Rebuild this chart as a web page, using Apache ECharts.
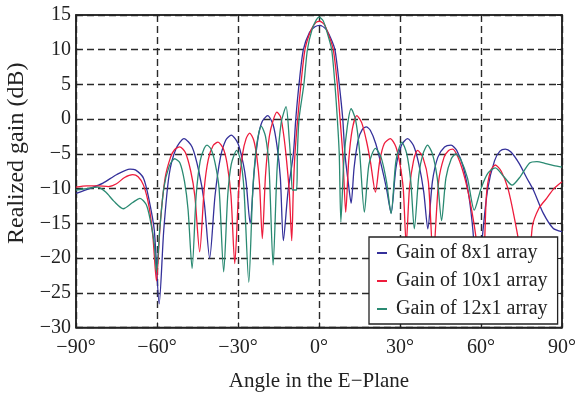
<!DOCTYPE html>
<html>
<head>
<meta charset="utf-8">
<script src="https://cdn.jsdelivr.net/npm/echarts@6/dist/echarts.min.js"></script>
<style>
html,body{margin:0;padding:0;background:#fff;}
#chart{width:579px;height:394px;}
</style>
</head>
<body>
<div id="chart"></div>
<script>
const seriesNames = ['Gain of 8x1 array', 'Gain of 10x1 array', 'Gain of 12x1 array'];
const xTicks = [-90, -60, -30, 0, 30, 60, 90];
const yTicks = [-30, -25, -20, -15, -10, -5, 0, 5, 10, 15];

const gain8 = [
  [-90,-10.7],[-85,-10.0],[-80,-9.2],[-75,-8.0],[-70,-7.2],[-68,-7.3],[-65,-8.5],[-63,-11.5],[-61,-16],
  [-59.2,-26.6],[-57.5,-16],[-55.5,-8],[-53,-4.3],[-50,-2.8],[-47,-4],[-44.5,-7.5],[-42.5,-12],[-40.5,-20],
  [-38.5,-11],[-36.5,-5.5],[-34.5,-3],[-32.5,-2.3],[-30,-3.5],[-28,-6.5],[-27,-9],[-25.5,-15],[-24,-7.5],
  [-22.5,-2.5],[-21,-0.3],[-19,0.5],[-17,-0.8],[-15.5,-4],[-14.3,-8.5],[-13.2,-17.5],[-11.5,-10.5],
  [-9.5,-5],[-8.6,0],[-7.4,5],[-5.8,10],[-3.5,12.5],[-1.5,13.3],[0.3,13.5],[2.5,13],[4.2,11.8],[5.9,10],
  [7.5,5],[8.8,0],[9.6,-5],[10.8,-9],[11.9,-12.1],[13,-7],[14.5,-3],[16,-1.5],[17.5,-1.1],[19,-1.6],
  [21,-3.5],[23,-6.5],[25,-10],[26.7,-13.5],[28.5,-7],[30.5,-3.8],[32.8,-2.8],[35,-3.8],[37,-6.5],
  [38.8,-10.5],[40.3,-15.8],[42,-9],[44,-5.5],[46.5,-4],[48.9,-3.75],[51,-4.5],[53.5,-7],[55.5,-11],
  [57,-16],[58.8,-25],[60.5,-17],[62.5,-10],[65,-6],[67,-4.6],[69,-4.3],[71,-4.7],[74,-6.3],[77,-8.5],
  [79.4,-10.2],[83,-13.5],[86.7,-15.7],[90,-16.2]
];

const gain10 = [
  [-90,-9.8],[-86,-9.6],[-82,-9.6],[-78,-9.7],[-75,-9.3],[-72,-8.4],[-69,-8.0],[-67,-8.3],[-65,-9.5],
  [-63,-12.5],[-61.5,-17],[-60.2,-23.3],[-58.8,-15],[-57,-8.5],[-55,-5.5],[-53.5,-4.4],[-51.6,-4.0],
  [-49.5,-4.8],[-47.5,-7.5],[-46,-11],[-44.2,-19.1],[-42.5,-10],[-41,-5.8],[-39.2,-3.8],[-37.4,-3.3],
  [-35.5,-4.2],[-34,-6.5],[-32.6,-11],[-31.2,-20.8],[-29.7,-10],[-28.3,-5],[-27,-2.8],[-25.7,-2.0],
  [-24.2,-3],[-23,-5.5],[-22,-9.5],[-21,-17.2],[-19.8,-8],[-18.4,-2.5],[-17,-0.2],[-15.6,1.0],[-14.2,0.3],
  [-13,-2.5],[-12,-6],[-11,-10.5],[-10.1,-17.5],[-9.5,-10],[-8.9,-5],[-7.9,0],[-6.7,5],[-5.2,10],
  [-3,12.8],[-1.2,13.9],[0.2,14.1],[2,13.6],[3.7,12],[5.3,10],[6.8,5],[7.8,0],[8.8,-5],[9.9,-13.4],
  [11,-6],[12.3,-1.5],[14,0.5],[15.8,-0.5],[17.5,-3],[19,-6],[20.9,-10.5],[22.5,-6],[24.2,-3.5],
  [26.4,-2.8],[28.5,-4],[30,-6.5],[31.2,-10],[32.3,-18],[33.5,-10],[35,-6],[36.5,-4.5],[38.5,-5.5],
  [40.5,-9],[42.3,-20],[44.3,-9],[46.3,-5.5],[48,-4.5],[49.5,-4.3],[51.5,-5.5],[54,-8.5],[56.5,-13],
  [58.5,-18],[60.5,-25],[62,-11],[63.5,-7.5],[65.3,-6.6],[67.5,-7.5],[70,-10],[72.5,-14.5],[75,-20],
  [77,-26],[79,-15.5],[81.5,-12.8],[84.3,-11.4],[87,-10],[90,-9]
];

const gain12 = [
  [-90,-10.2],[-86,-10.0],[-82,-9.8],[-79,-10.5],[-76,-11.8],[-72.5,-12.9],[-69,-12.0],[-66.3,-11.4],
  [-64,-12.3],[-62.5,-14.5],[-61,-18],[-60.2,-22],[-59,-16],[-57.5,-10],[-55.5,-6.8],[-53.5,-5.7],
  [-51.5,-6.3],[-49.8,-9],[-48.5,-13],[-47,-21.5],[-45.5,-11],[-44,-6],[-42.5,-4.2],[-41.5,-3.75],
  [-40,-4.3],[-38.5,-6.3],[-37,-10],[-35.3,-22],[-33.8,-11],[-32.5,-6.5],[-30.5,-4.5],[-29,-6],
  [-27.8,-10],[-26,-23.5],[-24.5,-10],[-23,-3.5],[-21.4,-1.0],[-19.8,-2.5],[-18.5,-7],[-17,-21],
  [-15.5,-7],[-14,-0.5],[-12.2,1.8],[-11,-3],[-10.3,-7],[-9.8,-10.2],[-8.3,-10.2],[-8.0,-5],[-7.4,0],
  [-5.6,5],[-4.3,10],[-2.5,13],[-1,14.3],[0,14.7],[1.5,14.2],[3,12.5],[4.7,10],[5.9,5],[6.8,0],
  [7.5,-5],[8.1,-14.8],[9.2,-6],[10.5,-1],[11.9,1.5],[13.5,0],[15,-4.5],[16.8,-13.4],[18.5,-6.5],
  [20.9,-4.2],[23,-5.5],[25,-9],[26.7,-13.6],[28.5,-6],[30.7,-3.3],[32.5,-5],[34,-9],[35.3,-15.8],
  [37,-8],[38.5,-5],[40.2,-3.75],[42,-5],[43.8,-8.5],[45.4,-14.6],[47,-8.5],[49,-5.7],[50.7,-5.0],
  [52.5,-5.8],[55,-8.5],[57.5,-13.1],[60,-10],[62.5,-7.8],[65.3,-7.0],[68.5,-8.3],[71.5,-9.5],
  [74.5,-8.3],[78,-6.3],[80.7,-6.1],[84,-6.4],[87,-6.7],[90,-6.9]
];

const colors = ['#34309a', '#ee1c3c', '#2a8a72'];
const FONT = '"Liberation Serif", "DejaVu Serif", serif';
const minus = v => (v < 0 ? '\u2212' + Math.abs(v) : String(v));

const chart = echarts.init(document.getElementById('chart'), null, {renderer: 'canvas'});
const gridLine = {show: true, lineStyle: {color: '#2a2a2a', width: 1.4, type: [7, 4]}};
const option = {
  backgroundColor: '#fff',
  animation: false,
  color: colors,
  textStyle: {fontFamily: FONT},
  grid: {left: 76, top: 15, right: 17, bottom: 66.5, outerBoundsMode: 'none', containLabel: false,
    show: true, borderColor: '#222', borderWidth: 1.5, backgroundColor: 'transparent'},
  legend: {
    data: seriesNames,
    orient: 'vertical',
    left: 369,
    top: 237,
    padding: [6, 10, 5, 8],
    itemGap: 8,
    itemWidth: 10,
    itemHeight: 2,
    icon: 'rect',
    backgroundColor: '#fff',
    borderColor: '#222',
    borderWidth: 1.3,
    borderRadius: 0,
    textStyle: {fontFamily: FONT, fontSize: 20, color: '#222', padding: [0, 0, 0, 4]}
  },
  xAxis: [{
    type: 'value', min: -90, max: 90, interval: 30,
    name: 'Angle in the E\u2212Plane', nameLocation: 'middle', nameGap: 43,
    nameTextStyle: {fontFamily: FONT, fontSize: 21, color: '#222'},
    axisLine: {show: true, onZero: false, lineStyle: {color: '#222', width: 1.5}},
    axisTick: {show: true, inside: true, length: 5, lineStyle: {color: '#222'}},
    axisLabel: {fontFamily: FONT, fontSize: 20, color: '#222', margin: 10, formatter: v => minus(v) + '\u00b0'},
    splitLine: gridLine
  }, {
    type: 'value', min: -90, max: 90, interval: 30, position: 'top',
    axisLine: {show: true, onZero: false, lineStyle: {color: '#222', width: 1.5}},
    axisTick: {show: true, inside: true, length: 5, lineStyle: {color: '#222'}},
    axisLabel: {show: false}, splitLine: {show: false}
  }],
  yAxis: [{
    type: 'value', min: -30, max: 15, interval: 5,
    name: 'Realized gain (dB)', nameLocation: 'middle', nameGap: 43, nameRotate: 90,
    nameTextStyle: {fontFamily: FONT, fontSize: 24, color: '#222', padding: [0, 0, 0, 36]},
    axisLine: {show: true, onZero: false, lineStyle: {color: '#222', width: 1.5}},
    axisTick: {show: true, inside: true, length: 5, lineStyle: {color: '#222'}},
    axisLabel: {fontFamily: FONT, fontSize: 20, color: '#222', margin: 5, formatter: v => minus(v)},
    splitLine: gridLine
  }, {
    type: 'value', min: -30, max: 15, interval: 5, position: 'right',
    axisLine: {show: true, onZero: false, lineStyle: {color: '#222', width: 1.5}},
    axisTick: {show: true, inside: true, length: 5, lineStyle: {color: '#222'}},
    axisLabel: {show: false}, splitLine: {show: false}
  }],
  series: [gain8, gain10, gain12].map((d, i) => ({
    name: seriesNames[i],
    type: 'line',
    data: d,
    smooth: 0.25,
    showSymbol: false,
    symbol: 'none',
    clip: true,
    lineStyle: {width: 1.3, color: colors[i]},
    z: 2 + i
  }))
};
chart.setOption(option);
</script>
</body>
</html>
